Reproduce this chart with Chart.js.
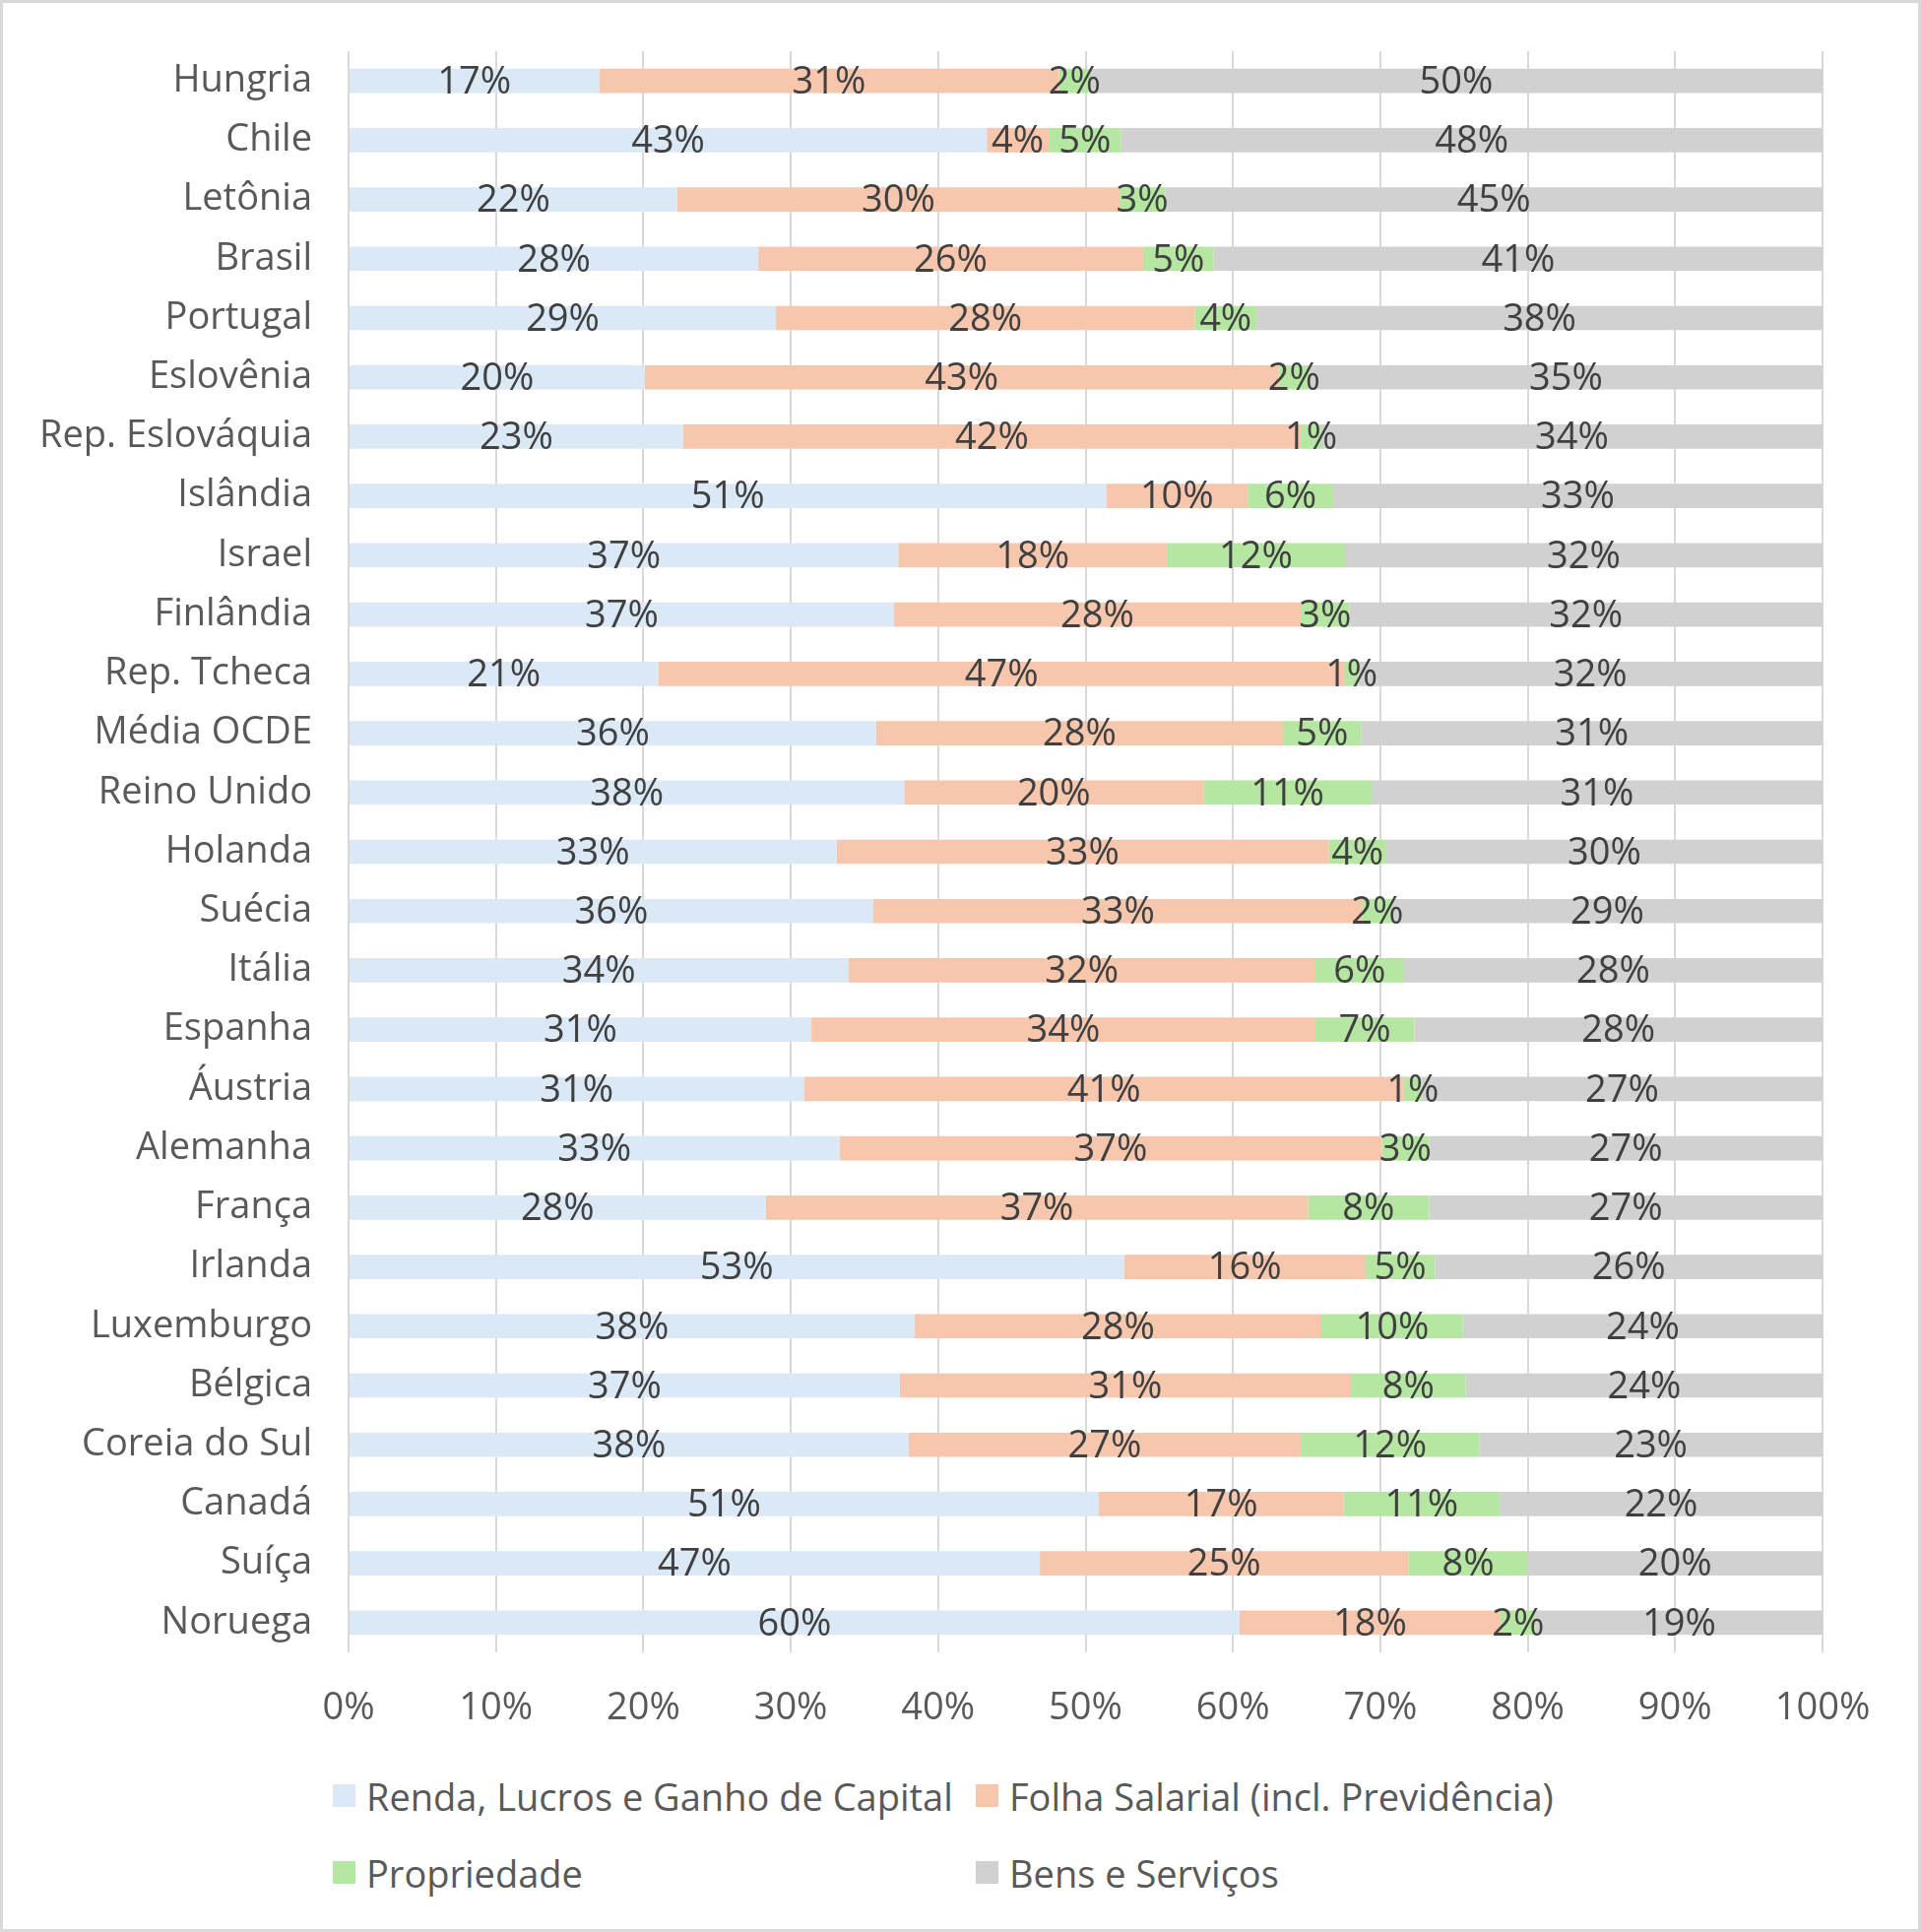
<!DOCTYPE html>
<html>
<head>
<meta charset="utf-8">
<script src="https://cdn.jsdelivr.net/npm/chart.js@4.4.1/dist/chart.umd.min.js"></script>
<style>
  html, body { margin: 0; padding: 0; background: #fff; }
  #frame {
    position: relative;
    width: 1951px;
    height: 1962px;
    box-sizing: border-box;
    border: 3px solid #d9d9d9;
    background: #fff;
    font-family: 'Open Sans', sans-serif;
  }
  #chart { position: absolute; left: 0; top: 0; }
  .legend-item {
    position: absolute;
    display: flex;
    align-items: center;
    font-size: 38px;
    color: #595959;
    line-height: 1;
    white-space: nowrap;
  }
  .legend-item .box { width: 23px; height: 23px; margin-right: 11px; }
</style>
</head>
<body>
<div id="frame">
  <canvas id="chart" width="1945" height="1780"></canvas>
  <div id="legend"></div>
</div>
<script>
const countries = [
  'Hungria', 'Chile', 'Letônia', 'Brasil', 'Portugal', 'Eslovênia', 'Rep. Eslováquia',
  'Islândia', 'Israel', 'Finlândia', 'Rep. Tcheca', 'Média OCDE', 'Reino Unido', 'Holanda',
  'Suécia', 'Itália', 'Espanha', 'Áustria', 'Alemanha', 'França', 'Irlanda', 'Luxemburgo',
  'Bélgica', 'Coreia do Sul', 'Canadá', 'Suíça', 'Noruega'
];

// shares of total tax revenue (%)
const renda = [17.0, 43.3, 22.3, 27.8, 29.0, 20.1, 22.7, 51.4, 37.3, 37.0, 21.0, 35.8, 37.7, 33.1,
  35.6, 33.9, 31.4, 30.9, 33.3, 28.3, 52.6, 38.4, 37.4, 38.0, 50.9, 46.9, 60.45];
const folha = [31.2, 4.2, 30.0, 26.1, 28.4, 43.0, 41.9, 9.6, 18.2, 27.6, 46.6, 27.6, 20.3, 33.4,
  33.2, 31.7, 34.2, 40.7, 36.8, 36.8, 16.4, 27.6, 30.6, 26.6, 16.6, 25.0, 17.7];
const propriedade = [2.1, 4.9, 3.1, 4.8, 4.2, 2.1, 1.4, 5.8, 12.1, 3.3, 0.9, 5.3, 11.4, 3.9,
  2.0, 6.0, 6.7, 1.2, 3.2, 8.2, 4.7, 9.6, 7.8, 12.1, 10.6, 8.1, 2.4];
const bens = [49.7, 47.6, 44.6, 41.3, 38.4, 34.8, 34.0, 33.2, 32.4, 32.1, 31.5, 31.3, 30.6, 29.6,
  29.2, 28.4, 27.7, 27.2, 26.7, 26.7, 26.3, 24.4, 24.2, 23.3, 21.9, 20.0, 19.45];

const seriesNames = ['Renda, Lucros e Ganho de Capital', 'Folha Salarial (incl. Previdência)', 'Propriedade', 'Bens e Serviços'];
const seriesColors = ['#dbe9f7', '#f6c6ad', '#b5e6a2', '#d1d1d1'];
const xTicks = [0, 10, 20, 30, 40, 50, 60, 70, 80, 90, 100];

const FONT = "'Open Sans', sans-serif";

// centred value labels inside each segment
const segmentLabels = {
  id: 'segmentLabels',
  afterDatasetsDraw(chart) {
    const ctx = chart.ctx;
    ctx.save();
    ctx.font = '38px ' + FONT;
    ctx.fillStyle = '#404040';
    ctx.textAlign = 'center';
    ctx.textBaseline = 'middle';
    chart.data.datasets.forEach((ds, i) => {
      const meta = chart.getDatasetMeta(i);
      meta.data.forEach((bar, j) => {
        const v = ds.data[j];
        const cx = (bar.x + bar.base) / 2;
        ctx.fillText(Math.round(v) + '%', cx, bar.y + 2);
      });
    });
    ctx.restore();
  }
};

const datasets = [renda, folha, propriedade, bens].map((data, i) => ({
  label: seriesNames[i],
  data: data,
  backgroundColor: seriesColors[i],
  borderWidth: 0,
  barPercentage: 0.41,
  categoryPercentage: 1.0
}));

const chart = new Chart(document.getElementById('chart'), {
  type: 'bar',
  data: { labels: countries, datasets: datasets },
  options: {
    indexAxis: 'y',
    responsive: false,
    animation: false,
    devicePixelRatio: 1,
    layout: { padding: { top: 49, right: 97, left: 0, bottom: 0 } },
    plugins: {
      legend: { display: false },
      tooltip: { enabled: false }
    },
    scales: {
      x: {
        stacked: true,
        min: 0,
        max: 100,
        afterBuildTicks(scale) { scale.ticks = xTicks.map(v => ({ value: v })); },
        afterFit(scale) { scale.height = 105; },
        grid: { color: '#d9d9d9', lineWidth: 2, drawTicks: false },
        border: { display: false },
        ticks: {
          padding: 34,
          color: '#595959',
          font: { family: FONT, size: 38 },
          callback: v => v + '%'
        }
      },
      y: {
        stacked: true,
        afterFit(scale) {
          scale.width = 351;
          scale.paddingTop = 0;
          scale.paddingBottom = 0;
        },
        grid: { display: false, drawTicks: false },
        border: { display: false },
        ticks: {
          padding: 37,
          color: '#595959',
          font: { family: FONT, size: 38 }
        }
      }
    }
  },
  plugins: [segmentLabels]
});

// two-column legend below the plot, like the original
const legendPos = [[335, 1809], [988, 1809], [335, 1887], [988, 1887]];
const legendEl = document.getElementById('legend');
chart.data.datasets.forEach((ds, i) => {
  const item = document.createElement('div');
  item.className = 'legend-item';
  item.style.left = legendPos[i][0] + 'px';
  item.style.top = (legendPos[i][1] - 6) + 'px';
  item.style.height = '35px';
  item.innerHTML = '<span class="box" style="background:' + ds.backgroundColor + '"></span><span>' + ds.label + '</span>';
  legendEl.appendChild(item);
});
</script>
</body>
</html>
